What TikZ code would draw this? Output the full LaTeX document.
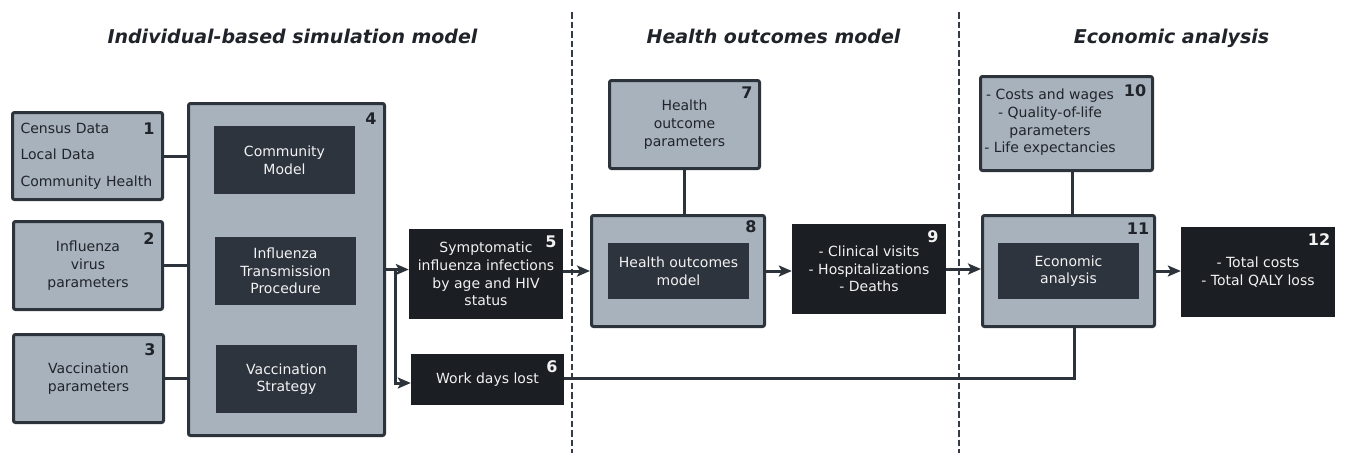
\documentclass[tikz,border=0pt]{standalone}
\usepackage{fontspec}
\setmainfont{DejaVu Sans}
\usetikzlibrary{arrows.meta,calc}
\definecolor{lightfill}{HTML}{A8B2BD}
\definecolor{bordc}{HTML}{2D333B}
\definecolor{innerc}{HTML}{2E343E}
\definecolor{blackc}{HTML}{1B1E22}
\definecolor{ltext}{HTML}{20242A}
\definecolor{dtext}{HTML}{F2F2F2}
\definecolor{dashc}{HTML}{353B44}
\newcommand\myBody{\fontsize{14}{17.7}\selectfont}
\newcommand\myNum{\fontsize{16}{16}\selectfont\bfseries}
\newcommand\myTitle{\fontsize{19}{19}\selectfont\bfseries\itshape}
\begin{document}
\begin{tikzpicture}[x=1pt,y=-1pt,
  lbox/.style={draw=bordc, fill=lightfill, line width=3pt, rounded corners=2pt, inner sep=0pt, text=ltext, align=center, font=\myBody},
  dbox/.style={fill=innerc, inner sep=0pt, text=dtext, align=center, font=\myBody},
  bbox/.style={fill=blackc, inner sep=0pt, text=dtext, align=center, font=\myBody},
  numl/.style={font=\myNum, text=ltext, inner sep=0pt},
  numd/.style={font=\myNum, text=dtext, inner sep=0pt},
  conn/.style={draw=bordc, line width=3pt},
  arr/.style={conn, -{Stealth[length=13pt,width=11pt,inset=3pt]}},
  sep/.style={draw=dashc, line width=1.8pt, dash pattern=on 6.5pt off 3pt},
  ttl/.style={font=\myTitle, text=ltext, anchor=base, inner sep=0pt}]
\useasboundingbox (0,0) rectangle (1346,453);

% titles
\node[ttl] (t1) at (292.5,43) {Individual-based simulation model};
\node[ttl] (t2) at (773.5,43) {Health outcomes model};
\node[ttl] (t3) at (1171.5,43) {Economic analysis};

% separators
\coordinate (s1a) at (571.7,12); \coordinate (s1b) at (571.7,453);
\coordinate (s2a) at (959,12); \coordinate (s2b) at (959,453);
\draw[sep] (s1a) -- (s1b);
\draw[sep] (s2a) -- (s2b);

% column 1
\node[lbox, minimum width=150pt, minimum height=87pt, text width=134pt, align=left] (b1) at (87.5,156)
  {Census Data\\[8.8pt]Local Data\\[8.8pt]Community Health};
\node[lbox, minimum width=149pt, minimum height=88pt] (b2) at (88,265.5) {Influenza\\virus\\parameters};
\node[lbox, minimum width=150pt, minimum height=88pt] (b3) at (88.5,378.5) {Vaccination\\parameters};
\node[numl] (n1) at (149,129) {1};
\node[numl] (n2) at (149,239) {2};
\node[numl] (n3) at (150,350) {3};

\node[lbox, minimum width=196pt, minimum height=332pt] (b4) at (286.5,269.5) {};
\node[numl] (n4) at (371,119) {4};
\node[dbox, minimum width=141pt, minimum height=68pt] (cm) at (284.5,160) {Community\\Model};
\node[dbox, minimum width=141pt, minimum height=68pt] (it) at (285.5,271) {Influenza\\Transmission\\Procedure};
\node[dbox, minimum width=141pt, minimum height=68pt] (vs) at (286.5,379) {Vaccination\\Strategy};

\node[bbox, minimum width=154pt, minimum height=90pt] (b5) at (486,274) {Symptomatic\\influenza infections\\by age and HIV\\status};
\node[numd] (n5) at (551,242) {5};
\node[bbox, minimum width=153pt, minimum height=51pt] (b6) at (487.5,379.5) {Work days lost};
\node[numd] (n6) at (552,367) {6};

% column 2
\node[lbox, minimum width=150pt, minimum height=88pt] (b7) at (684.5,124.5) {Health\\outcome\\parameters};
\node[numl] (n7) at (747,93) {7};
\node[lbox, minimum width=173pt, minimum height=111pt] (b8) at (678,271) {};
\node[numl] (n8) at (751,227) {8};
\node[dbox, minimum width=141pt, minimum height=56pt] (hm) at (678.5,271) {Health outcomes\\model};
\node[bbox, minimum width=154pt, minimum height=90pt] (b9) at (869,269) {- Clinical visits\\- Hospitalizations\\- Deaths};
\node[numd] (n9) at (933,237) {9};

% column 3
\node[lbox, minimum width=172pt, minimum height=94pt] (b10) at (1066.5,123.5) {};
\node[font=\myBody, text=ltext, align=center, inner sep=0pt] (b10t) at (1050,122.5)
  {- Costs and wages\\- Quality-of-life\\parameters\\- Life expectancies};
\node[numl] (n10) at (1135,91) {10};
\node[lbox, minimum width=172pt, minimum height=111pt] (b11) at (1068.5,271) {};
\node[numl] (n11) at (1138,229) {11};
\node[dbox, minimum width=141pt, minimum height=56pt] (ea) at (1068.5,271) {Economic\\analysis};
\node[bbox, minimum width=154pt, minimum height=90pt] (b12) at (1258,272) {- Total costs\\- Total QALY loss};
\node[numd] (n12) at (1319,240) {12};

% connectors
\draw[conn] (b1.east) -- (b1.east -| b4.west);
\draw[conn] (b2.east) -- (b2.east -| b4.west);
\draw[conn] (b3.east) -- (b3.east -| b4.west);
\draw[arr] (b4.east) -- (b4.east -| b5.west);
\coordinate (br) at (395,269.5);
\coordinate (brd) at (395,383);
\draw[arr] (br) -- (brd) -- (brd -| b6.west);
\draw[arr] (b8.west -| b5.east) -- (b8.west);
\draw[conn] (b7.south) -- (b7.south |- b8.north);
\draw[arr] (b8.east) -- (b8.east -| b9.west);
\draw[arr] (b9.east) -- (b9.east -| b11.west);
\coordinate (c10) at ($(b10.south)+(6,0)$);
\draw[conn] (c10) -- (c10 |- b11.north);
\coordinate (c11) at ($(b11.south)+(5.5,0)$);
\draw[conn] (b6.east |- 0,378) -| (c11);
\draw[arr] (b11.east) -- (b11.east -| b12.west);
\end{tikzpicture}
\end{document}
